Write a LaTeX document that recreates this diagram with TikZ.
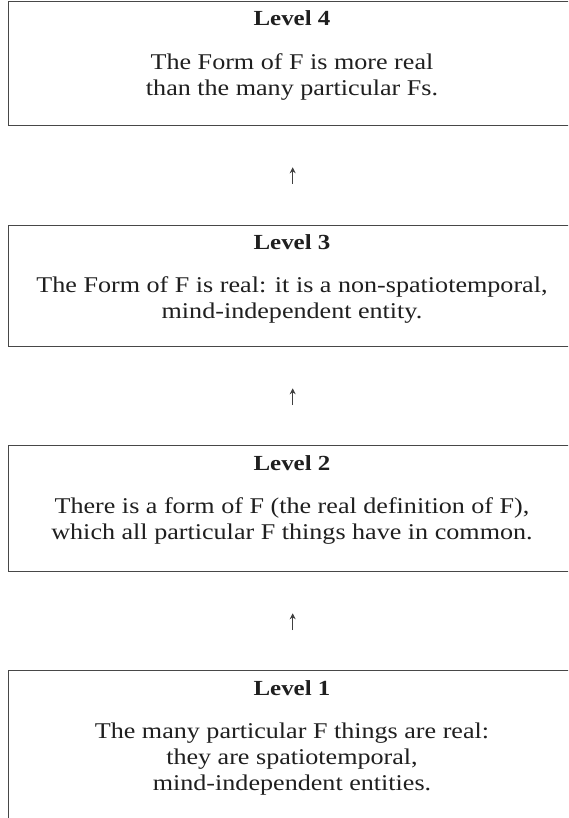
\documentclass[tikz,border=0pt]{standalone}
\usepackage{fontspec}
\setmainfont{Liberation Serif}[FakeStretch=1.16]
\usetikzlibrary{arrows.meta}
\begin{document}
\begin{tikzpicture}[x=1pt,y=-1pt,
  levelbox/.style={draw=black!72, line width=1.3pt, minimum width=568pt, anchor=north west, inner sep=0pt},
  ttl/.style={font=\fontsize{21.5}{26}\selectfont\bfseries, text=black!88, inner sep=0pt, anchor=base},
  body/.style={font=\fontsize{22.5}{26}\selectfont, text=black!88, inner sep=0pt, anchor=base},
  up/.style={-{Stealth[length=6pt,width=6pt]}, line width=1.3pt, draw=black!75}
]
\useasboundingbox (0,0) rectangle (568,818);
\begin{scope}
\clip (0,0) rectangle (568,818);
\node[levelbox, minimum height=124pt] (b4) at (8,1) {};
\node[levelbox, minimum height=121pt] (b3) at (8,225) {};
\node[levelbox, minimum height=126pt] (b2) at (8,445) {};
\node[levelbox, minimum height=170pt] (b1) at (8,670) {};
\end{scope}

\node[ttl] (t4) at (292,26) {Level 4};
\node[body] (l4a) at (292,70) {The Form of F is more real};
\node[body] (l4b) at (292,96) {than the many particular Fs.};

\node[ttl] (t3) at (292,249) {Level 3};
\node[body] (l3a) at (292,292) {The Form of F is real: it is a non-spatiotemporal,};
\node[body] (l3b) at (292,318) {mind-independent entity.};

\node[ttl] (t2) at (292,470) {Level 2};
\node[body] (l2a) at (292,513) {There is a form of F (the real definition of F),};
\node[body] (l2b) at (292,539) {which all particular F things have in common.};

\node[ttl] (t1) at (292,695) {Level 1};
\node[body] (l1a) at (292,738) {The many particular F things are real:};
\node[body] (l1b) at (292,764) {they are spatiotemporal,};
\node[body] (l1c) at (292,790) {mind-independent entities.};

\draw[up, shorten <=41pt, shorten >=41pt] (b3.north) -- (b4.south);
\draw[up, shorten <=40pt, shorten >=41pt] (b2.north) -- (b3.south);
\draw[up, shorten <=40pt, shorten >=41pt] (b1.north) -- (b2.south);
\end{tikzpicture}
\end{document}
